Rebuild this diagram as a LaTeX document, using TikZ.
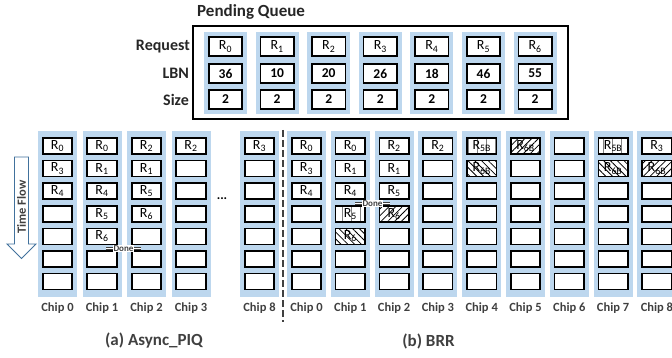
\documentclass[tikz,border=0pt]{standalone}
\usepackage{fontspec}
\setmainfont{Carlito}
\usetikzlibrary{positioning,patterns.meta}

\definecolor{chipblue}{HTML}{BDD7EE}
\definecolor{arrowblue}{HTML}{41719C}
\definecolor{labelgray}{HTML}{404040}

\begin{document}
\begin{tikzpicture}[x=1pt, y=-1pt]
    % Define styles
    \tikzstyle{column} = [fill=chipblue, minimum width=39pt, minimum height=166pt, inner sep=0pt]
    \tikzstyle{slot} = [draw, line width=1.6pt, fill=white, minimum width=29.5pt, minimum height=16pt, inner sep=0pt]
    \tikzstyle{qcolumn} = [fill=chipblue, minimum width=43pt, minimum height=82pt, inner sep=0pt]
    \tikzstyle{qslot} = [draw, line width=1.6pt, fill=white, minimum width=33.5pt, minimum height=19.5pt, inner sep=0pt]
    \tikzstyle{job} = [inner sep=0pt, font=\fontsize{14}{14}\selectfont]
    \tikzstyle{num} = [inner sep=0pt, font=\bfseries\fontsize{13.5}{14}\selectfont]
    \tikzstyle{rowlabel} = [anchor=east, inner sep=0pt, text=black!85, font=\bfseries\fontsize{16}{16}\selectfont]
    \tikzstyle{chiplabel} = [inner sep=0pt, text=labelgray, font=\bfseries\fontsize{12.5}{13}\selectfont]
    \tikzstyle{caption} = [inner sep=0pt, text=labelgray, font=\bfseries\fontsize{17}{17}\selectfont]
    \tikzstyle{hatchne} = [slot, fill=none, pattern={Lines[angle=45, distance=4.8pt, line width=0.8pt]}]
    \tikzstyle{hatchnw} = [slot, fill=none, pattern={Lines[angle=-45, distance=4.8pt, line width=0.8pt]}]
    \tikzstyle{vlines} = [slot, fill=none, pattern={Lines[angle=90, distance=9pt, line width=0.3pt]}, pattern color=gray]
    \tikzstyle{donemark} = [double, double distance=1.5pt, line width=0.7pt, draw=labelgray]
    \tikzstyle{donetext} = [fill=white, inner sep=0.6pt, text=labelgray, font=\bfseries\fontsize{9}{9}\selectfont]

    \clip (0,0) rectangle (672,358);

    % Pending queue
    \node[rowlabel, anchor=west, font=\bfseries\fontsize{17}{17}\selectfont] (pq) at (197,12) {Pending Queue};
    \node[draw, line width=1.6pt, minimum width=375.5pt, minimum height=93.5pt, inner sep=0pt] (queue) at (380.5,72.5) {};
    \node[rowlabel] (req) at (190,46.5) {Request};
    \node[rowlabel] (lbn) at (189,73.5) {LBN};
    \node[rowlabel] (size) at (189,99.5) {Size};
    \foreach \lbn [count=\i from 0] in {36,10,20,26,18,46,55} {
        \node[qcolumn] (q\i) at ({225.5+51.6*\i},73) {};
        \node[qslot] (q\i-req) at ({225.5+51.6*\i},46.5) {};
        \node[qslot] (q\i-lbn) at ({225.5+51.6*\i},73.5) {};
        \node[qslot] (q\i-size) at ({225.5+51.6*\i},99.5) {};
        \node[job] (q\i-r) at (q\i-req) {R\textsubscript{\i}};
        \node[num] (q\i-l) at (q\i-lbn) {\lbn};
        \node[num] (q\i-s) at (q\i-size) {2};
    }

    % Chips: (a) left of the divider, (b) right of it
    \foreach \name/\x/\n in {a0/57.5/0, a1/102/1, a2/146.5/2, a3/191/3, a8/259.5/8,
        b0/306.5/0, b1/350.3/1, b2/394.1/2, b3/437.9/3, b4/481.7/4, b5/525.5/5, b6/569.3/6, b7/613.1/7, b8/656.9/8} {
        \node[column] (\name) at (\x,214) {};
        \foreach \r in {1,...,7}
            \node[slot] (\name-\r) at ({\x},{146+22.6*(\r-1)}) {};
        \node[chiplabel] (\name-lbl) at (\x,308) {Chip \n};
    }

    % Special slots in (b)
    \node[vlines] (b1-4p) at (b1-4) {};
    \node[hatchnw] (b1-5p) at (b1-5) {};
    \node[hatchne] (b2-4p) at (b2-4) {};
    \node[vlines] (b4-1p) at (b4-1) {};
    \node[hatchnw] (b4-2p) at (b4-2) {};
    \node[hatchne] (b5-1p) at (b5-1) {};
    \node[vlines] (b7-1p) at (b7-1) {};
    \node[hatchnw] (b7-2p) at (b7-2) {};
    \node[hatchne] (b8-2p) at (b8-2) {};

    % Jobs in (a)
    \node[job] (ja0-1) at (a0-1) {R\textsubscript{0}};
    \node[job] (ja0-2) at (a0-2) {R\textsubscript{3}};
    \node[job] (ja0-3) at (a0-3) {R\textsubscript{4}};
    \node[job] (ja1-1) at (a1-1) {R\textsubscript{0}};
    \node[job] (ja1-2) at (a1-2) {R\textsubscript{1}};
    \node[job] (ja1-3) at (a1-3) {R\textsubscript{4}};
    \node[job] (ja1-4) at (a1-4) {R\textsubscript{5}};
    \node[job] (ja1-5) at (a1-5) {R\textsubscript{6}};
    \node[job] (ja2-1) at (a2-1) {R\textsubscript{2}};
    \node[job] (ja2-2) at (a2-2) {R\textsubscript{1}};
    \node[job] (ja2-3) at (a2-3) {R\textsubscript{5}};
    \node[job] (ja2-4) at (a2-4) {R\textsubscript{6}};
    \node[job] (ja3-1) at (a3-1) {R\textsubscript{2}};
    \node[job] (ja8-1) at (a8-1) {R\textsubscript{3}};

    % Jobs in (b)
    \node[job] (jb0-1) at (b0-1) {R\textsubscript{0}};
    \node[job] (jb0-2) at (b0-2) {R\textsubscript{3}};
    \node[job] (jb0-3) at (b0-3) {R\textsubscript{4}};
    \node[job] (jb1-1) at (b1-1) {R\textsubscript{0}};
    \node[job] (jb1-2) at (b1-2) {R\textsubscript{1}};
    \node[job] (jb1-3) at (b1-3) {R\textsubscript{4}};
    \node[job] (jb1-4) at (b1-4) {R\textsubscript{5}};
    \node[job] (jb1-5) at (b1-5) {R\textsubscript{6}};
    \node[job] (jb2-1) at (b2-1) {R\textsubscript{2}};
    \node[job] (jb2-2) at (b2-2) {R\textsubscript{1}};
    \node[job] (jb2-3) at (b2-3) {R\textsubscript{5}};
    \node[job] (jb2-4) at (b2-4) {R\textsubscript{6}};
    \node[job] (jb3-1) at (b3-1) {R\textsubscript{2}};
    \node[job] (jb4-1) at (b4-1) {R\textsubscript{5B}};
    \node[job] (jb4-2) at (b4-2) {R\textsubscript{6B}};
    \node[job] (jb5-1) at (b5-1) {R\textsubscript{6B}};
    \node[job] (jb7-1) at (b7-1) {R\textsubscript{5B}};
    \node[job] (jb7-2) at (b7-2) {R\textsubscript{6B}};
    \node[job] (jb8-1) at (b8-1) {R\textsubscript{3}};
    \node[job] (jb8-2) at (b8-2) {R\textsubscript{6B}};

    % Done marks
    \coordinate (doneA-l) at (106,248.5);
    \coordinate (doneA-r) at (141,248.5);
    \draw[donemark] (doneA-l) -- node[donetext] (doneA) {Done} (doneA-r);
    \coordinate (doneB-l) at (355,203.5);
    \coordinate (doneB-r) at (390,203.5);
    \draw[donemark] (doneB-l) -- node[donetext] (doneB) {Done} (doneB-r);

    % Time flow arrow
    \draw[arrowblue, line width=0.9pt, fill=white] (14.5,157) -- (28.5,157) -- (28.5,244) -- (36,244)
        -- (21.5,258.5) -- (7,244) -- (14.5,244) -- cycle;
    \node[rotate=90, inner sep=0pt, text=labelgray, font=\bfseries\fontsize{12.5}{12}\selectfont] (timeflow) at (21.5,207) {Time Flow};

    % Divider and dots
    \node[inner sep=0pt, font=\bfseries\fontsize{13}{13}\selectfont] (dots) at (222,199) {...};
    \coordinate (divtop) at (283,130);
    \coordinate (divbot) at (283,322);
    \draw[labelgray, line width=1.4pt, dash pattern=on 7pt off 3pt] (divtop) -- (divbot);

    % Captions
    \node[caption] (capA) at (154,341) {(a) Async\_PIQ};
    \node[caption] (capB) at (428.5,341) {(b) BRR};
\end{tikzpicture}
\end{document}
